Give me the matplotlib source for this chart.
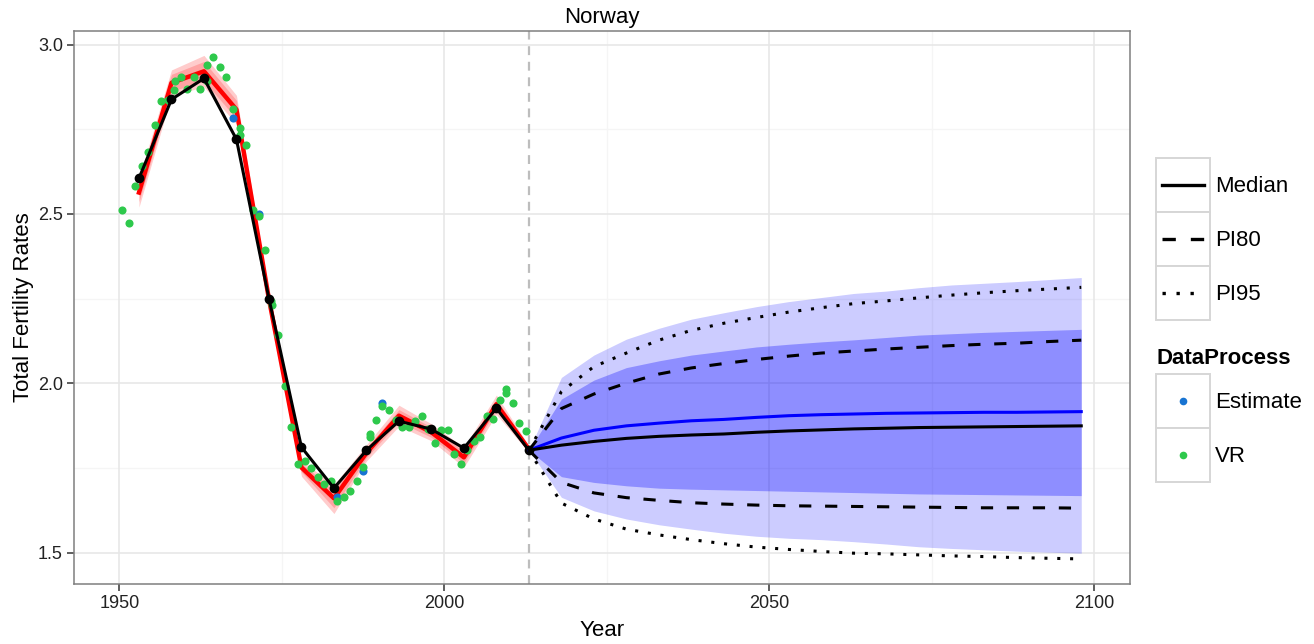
import matplotlib
matplotlib.use("Agg")
import matplotlib.pyplot as plt
from matplotlib.patches import Rectangle
from matplotlib.lines import Line2D

plt.rcParams['font.family'] = ['Liberation Sans', 'DejaVu Sans']

# ---- Past estimates (5-year periods) ----
est_years = [1953, 1958, 1963, 1968, 1973, 1978, 1983, 1988, 1993, 1998, 2003, 2008, 2013]
est_median = [2.605, 2.838, 2.900, 2.720, 2.250, 1.811, 1.690, 1.802, 1.888, 1.864, 1.808, 1.926, 1.802]

# alternative estimate with its uncertainty bands
red_median = [2.563, 2.887, 2.921, 2.808, 2.248, 1.751, 1.660, 1.794, 1.904, 1.855, 1.781, 1.938, 1.805]
red_hi95 = [2.605, 2.925, 2.968, 2.850, 2.260, 1.772, 1.700, 1.818, 1.935, 1.880, 1.810, 1.965, 1.815]
red_lo95 = [2.520, 2.850, 2.875, 2.765, 2.236, 1.725, 1.615, 1.770, 1.873, 1.830, 1.752, 1.908, 1.795]
red_hi80 = [2.590, 2.912, 2.950, 2.835, 2.255, 1.763, 1.685, 1.808, 1.922, 1.870, 1.798, 1.953, 1.811]
red_lo80 = [2.536, 2.862, 2.892, 2.781, 2.241, 1.738, 1.632, 1.780, 1.886, 1.840, 1.764, 1.921, 1.799]

# ---- Observed data points ----
vr_years = [1950.4, 1951.4, 1952.4, 1953.4, 1954.4, 1955.4, 1956.4, 1957.4,
            1958.4, 1958.5, 1959.4, 1960.4, 1961.4, 1962.4, 1963.4, 1963.5, 1964.4, 1965.4, 1966.4, 1967.4,
            1968.5, 1968.5, 1969.5, 1970.5, 1971.4, 1972.4, 1973.3, 1973.4, 1974.4, 1975.4,
            1976.4, 1977.4, 1978.5, 1979.4, 1980.5, 1981.5, 1982.6, 1983.4, 1984.5, 1985.4,
            1986.5, 1987.4, 1988.5, 1988.5, 1989.4, 1990.4, 1991.4, 1992.5, 1993.4, 1994.5,
            1995.5, 1996.5, 1997.4, 1998.5, 1999.5, 2000.5, 2001.4, 2002.5, 2003.5, 2004.5,
            2005.5, 2006.5, 2007.5, 2008.5, 2009.5, 2009.5, 2010.5, 2011.5, 2012.5]
vr_values = [2.511, 2.473, 2.582, 2.641, 2.682, 2.761, 2.833, 2.835,
             2.867, 2.892, 2.905, 2.869, 2.904, 2.870, 2.941, 2.892, 2.964, 2.933, 2.904, 2.811,
             2.753, 2.733, 2.702, 2.511, 2.493, 2.392, 2.243, 2.230, 2.142, 1.992,
             1.871, 1.761, 1.771, 1.751, 1.722, 1.702, 1.712, 1.653, 1.663, 1.682,
             1.712, 1.753, 1.850, 1.840, 1.891, 1.933, 1.920, 1.892, 1.871, 1.871,
             1.889, 1.904, 1.866, 1.822, 1.861, 1.861, 1.791, 1.761, 1.803, 1.830,
             1.840, 1.902, 1.894, 1.951, 1.982, 1.970, 1.941, 1.882, 1.859]
estimate_years = [1967.4, 1971.4, 1983.4, 1987.4, 1990.4]
estimate_values = [2.782, 2.499, 1.663, 1.741, 1.941]

# ---- Projections ----
proj_years = [2013, 2018, 2023, 2028, 2033, 2038, 2043, 2048, 2053, 2058,
              2063, 2068, 2073, 2078, 2083, 2088, 2093, 2098]
proj_median = [1.802, 1.817, 1.828, 1.837, 1.843, 1.847, 1.850, 1.855, 1.859, 1.862,
               1.865, 1.867, 1.869, 1.870, 1.871, 1.872, 1.873, 1.874]
proj_blue = [1.802, 1.838, 1.861, 1.874, 1.882, 1.889, 1.893, 1.899, 1.904, 1.907,
             1.909, 1.911, 1.912, 1.913, 1.914, 1.914, 1.915, 1.916]
pi80_hi = [1.802, 1.925, 1.968, 2.000, 2.027, 2.045, 2.058, 2.070, 2.080, 2.089,
           2.095, 2.101, 2.106, 2.111, 2.115, 2.118, 2.123, 2.127]
pi80_lo = [1.802, 1.707, 1.676, 1.662, 1.654, 1.647, 1.643, 1.640, 1.638, 1.637,
           1.636, 1.635, 1.634, 1.633, 1.632, 1.632, 1.632, 1.631]
pi95_hi = [1.802, 1.975, 2.049, 2.089, 2.127, 2.156, 2.177, 2.194, 2.210, 2.223,
           2.235, 2.243, 2.252, 2.260, 2.267, 2.273, 2.278, 2.283]
pi95_lo = [1.802, 1.646, 1.599, 1.569, 1.552, 1.538, 1.526, 1.516, 1.509, 1.503,
           1.498, 1.496, 1.493, 1.490, 1.488, 1.485, 1.483, 1.481]
band95_hi = [1.802, 2.017, 2.083, 2.130, 2.162, 2.189, 2.208, 2.226, 2.241, 2.253,
             2.265, 2.272, 2.282, 2.290, 2.295, 2.300, 2.306, 2.312]
band95_lo = [1.802, 1.663, 1.623, 1.599, 1.582, 1.569, 1.557, 1.548, 1.542, 1.538,
             1.532, 1.525, 1.517, 1.512, 1.508, 1.504, 1.501, 1.498]
band80_hi = [1.802, 1.953, 2.009, 2.046, 2.066, 2.083, 2.095, 2.107, 2.115, 2.122,
             2.128, 2.135, 2.142, 2.146, 2.150, 2.153, 2.156, 2.159]
band80_lo = [1.802, 1.724, 1.707, 1.697, 1.690, 1.687, 1.685, 1.683, 1.681, 1.679,
             1.677, 1.675, 1.673, 1.672, 1.671, 1.670, 1.669, 1.668]

present_year = 2013
x_ticks = [1950, 2000, 2050, 2100]
y_ticks = [1.5, 2.0, 2.5, 3.0]

W, H = 1314, 644
fig = plt.figure(figsize=(W / 100, H / 100), dpi=100)
ax = fig.add_axes([74 / W, 60 / H, (1130 - 74) / W, (584 - 31) / H])

ax.set_xlim(1943.0, 2105.5)
ax.set_ylim(1.407, 3.040)

# grid
for x in [1975, 2025, 2075]:
    ax.axvline(x, color='#F5F5F5', lw=1.0, zorder=0)
for y in [1.75, 2.25, 2.75]:
    ax.axhline(y, color='#F5F5F5', lw=1.0, zorder=0)
for x in x_ticks:
    ax.axvline(x, color='#E6E6E6', lw=1.1, zorder=0)
for y in y_ticks:
    ax.axhline(y, color='#E6E6E6', lw=1.1, zorder=0)

# present-year marker
ax.axvline(present_year, color='#BDBDBD', lw=1.6, ls=(0, (4, 3)), zorder=1)

# alternative estimate with bands
ax.fill_between(est_years, red_lo95, red_hi95, color='red', alpha=0.2, lw=0, zorder=2)
ax.fill_between(est_years, red_lo80, red_hi80, color='red', alpha=0.2, lw=0, zorder=2)
ax.plot(est_years, red_median, color='red', lw=3.2, zorder=3)

# observed points
ax.scatter(estimate_years, estimate_values, s=34, color='#1874D2', lw=0, zorder=4)
ax.scatter(vr_years, vr_values, s=34, color='#2EC94C', lw=0, zorder=5)

# past median
ax.plot(est_years, est_median, color='black', lw=2.2, marker='o', ms=6, zorder=6)

# projection bands
ax.fill_between(proj_years, band95_lo, band95_hi, color='blue', alpha=0.2, lw=0, zorder=2)
ax.fill_between(proj_years, band80_lo, band80_hi, color='blue', alpha=0.3, lw=0, zorder=2)

ax.plot(proj_years, proj_blue, color='blue', lw=2.2, zorder=6)
ax.plot(proj_years, proj_median, color='black', lw=2.2, zorder=7)
dash = (0, (4, 4.5))
dot = (0, (1, 3.2))
ax.plot(proj_years, pi80_hi, color='black', lw=2.2, ls=dash, dash_capstyle='butt', zorder=7)
ax.plot(proj_years, pi80_lo, color='black', lw=2.2, ls=dash, dash_capstyle='butt', zorder=7)
ax.plot(proj_years, pi95_hi, color='black', lw=2.2, ls=dot, dash_capstyle='butt', zorder=7)
ax.plot(proj_years, pi95_lo, color='black', lw=2.2, ls=dot, dash_capstyle='butt', zorder=7)

# axes styling
ax.set_xticks(x_ticks)
ax.set_xticklabels([str(v) for v in x_ticks])
ax.set_yticks(y_ticks)
ax.set_yticklabels([f"{v:.1f}" for v in y_ticks])
ax.tick_params(axis='both', length=5, width=1.1, color='#333333', labelsize=13,
               labelcolor='#222222', pad=3)
for sp in ax.spines.values():
    sp.set_color('#7F7F7F')
    sp.set_linewidth(1.1)
ax.set_xlabel('Year', fontsize=16, labelpad=6)
ax.set_ylabel('Total Fertility Rates', fontsize=16, labelpad=3)
ax.set_title('Norway', fontsize=16, pad=6)

# legends drawn in pixel space
lg = fig.add_axes([0, 0, 1, 1])
lg.set_xlim(0, W)
lg.set_ylim(H, 0)
lg.axis('off')

key_x, key_w = 1156, 54
line_items = [('Median', '-'), ('PI80', dash), ('PI95', dot)]
top = 158
for i, (lab, style) in enumerate(line_items):
    y0 = top + i * 54
    lg.add_patch(Rectangle((key_x, y0), key_w, 54, fc='white', ec='#D6D6D6', lw=1.4))
    lg.add_line(Line2D([1162, 1204], [y0 + 27, y0 + 27], color='black', lw=2.4,
                       ls=style, dash_capstyle='butt'))
    lg.text(1215, y0 + 28, lab, fontsize=16, va='center', ha='left')

lg.text(1157, 358, 'DataProcess', fontsize=16, fontweight='bold', va='center', ha='left')
pt_items = [('Estimate', '#1874D2'), ('VR', '#2EC94C')]
top2 = 374
for i, (lab, col) in enumerate(pt_items):
    y0 = top2 + i * 54
    lg.add_patch(Rectangle((key_x, y0), key_w, 54, fc='white', ec='#D6D6D6', lw=1.4))
    lg.plot([key_x + 27], [y0 + 27], 'o', color=col, ms=5.5, mew=0)
    lg.text(1215, y0 + 28, lab, fontsize=16, va='center', ha='left')

fig.savefig('out.png', dpi=100)
